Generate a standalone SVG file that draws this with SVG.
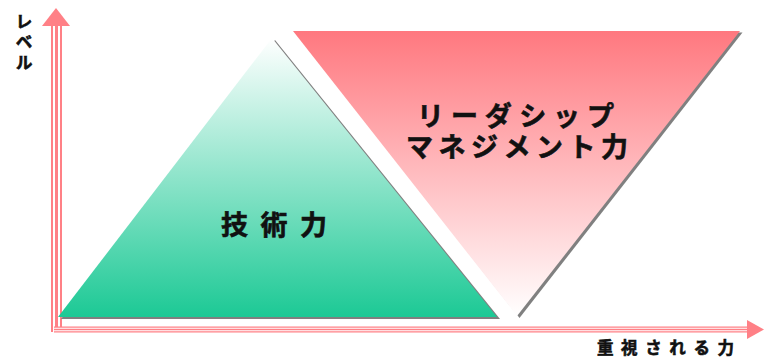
<svg xmlns="http://www.w3.org/2000/svg" width="764" height="358" viewBox="0 0 764 358">
<defs>
<linearGradient id="gGreen" x1="0" y1="38" x2="0" y2="317" gradientUnits="userSpaceOnUse">
<stop offset="0" stop-color="#ffffff"/>
<stop offset="1" stop-color="#1cc995"/>
</linearGradient>
<linearGradient id="gPink" x1="0" y1="31" x2="0" y2="316" gradientUnits="userSpaceOnUse">
<stop offset="0" stop-color="#ff787f"/>
<stop offset="1" stop-color="#ffffff"/>
</linearGradient>
</defs>
<style>
.lbl{font-family:"Noto Sans CJK JP","Noto Sans CJK SC",sans-serif;font-weight:bold;fill:#111;stroke:#111;stroke-width:0.6;}
.big{font-size:27px;}
.shadow{fill:#808080;}
.pk{stroke:#ff8086;fill:none;}
.wh{stroke:#ffffff;fill:none;}
</style>
<g id="connectors">
<g id="axis-y">
<line class="pk" x1="56.5" y1="332" x2="56.5" y2="25" stroke-width="11"/>
<line class="wh" x1="56.5" y1="332" x2="56.5" y2="25" stroke-width="7"/>
<line class="pk" x1="56.5" y1="332" x2="56.5" y2="25" stroke-width="3"/>
<polygon points="42,26 56,8 70,26" fill="#ff8086"/>
</g>
<g id="axis-x">
<line class="pk" x1="54" y1="329.5" x2="748" y2="329.5" stroke-width="6"/>
<line class="wh" x1="54" y1="329.5" x2="748" y2="329.5" stroke-width="3.6"/>
<line class="pk" x1="54" y1="329.5" x2="748" y2="329.5" stroke-width="1.4"/>
<polygon points="747,320 764,329.5 747,339" fill="#ff8086"/>
</g>
</g>
<g id="tech">
<polygon class="shadow" points="275,40 500,319 61,319"/>
<polygon points="272,38 497,317 58,317" fill="url(#gGreen)"/>
<text class="lbl big" x="221" y="235" textLength="106" lengthAdjust="spacing">技術力</text>
</g>
<g id="leadership">
<polygon class="shadow" points="295.5,32.5 742.5,32.5 519.5,318"/>
<polygon points="293,31 740,31 517,316" fill="url(#gPink)"/>
<text class="lbl big"><tspan x="417" y="126" textLength="197" lengthAdjust="spacing">リーダシップ</tspan><tspan x="406" y="157" textLength="222" lengthAdjust="spacing">マネジメント力</tspan></text>
</g>
<g id="labels">
<text class="lbl" x="24" y="13" font-size="17" writing-mode="vertical-rl" letter-spacing="3.5">レベル</text>
<text class="lbl" x="597" y="354" font-size="16.5" textLength="137" lengthAdjust="spacing">重視される力</text>
</g>
</svg>
